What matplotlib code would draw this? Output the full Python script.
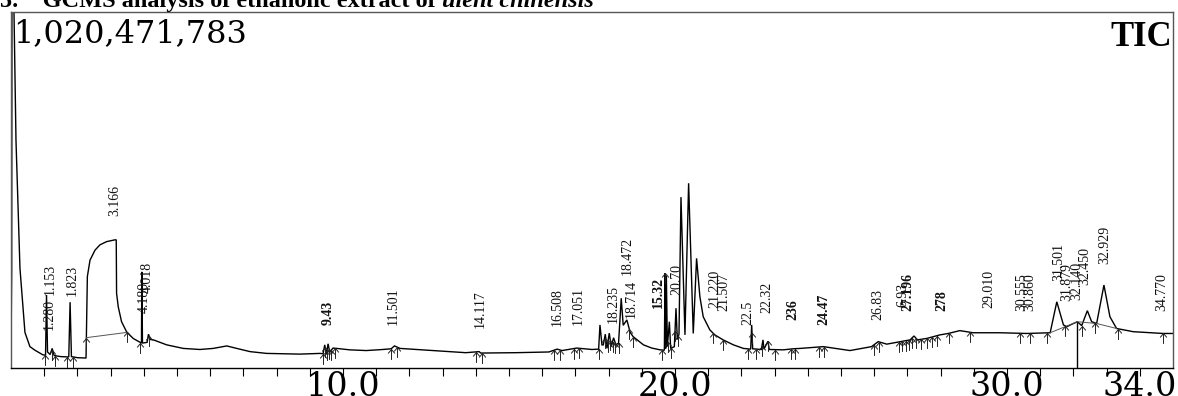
import numpy as np
import matplotlib
matplotlib.use("Agg")
import matplotlib.pyplot as plt
from matplotlib.path import Path

# ---------------- data ----------------
# retention time (min) and relative intensity (% of full scale 1,020,471,783)
rt = [0.00, 0.02, 0.05, 0.09, 0.15, 0.27, 0.42, 0.57, 0.72, 0.96,
      1.04, 1.07, 1.10, 1.18, 1.24, 1.30, 1.50, 1.74, 1.78, 1.82,
      2.00, 2.26, 2.30, 2.38, 2.53, 2.68, 2.88, 3.13, 3.17, 3.18,
      3.23, 3.33, 3.48, 3.68, 3.89, 3.93, 3.94, 3.96, 4.10, 4.14,
      4.20, 4.29, 4.69, 5.19, 5.69, 6.09, 6.50, 6.80, 7.20, 7.70,
      8.70, 9.31, 9.40, 9.45, 9.50, 9.55, 9.60, 9.70, 9.81, 10.20,
      10.70, 11.20, 11.45, 11.55, 11.72, 12.70, 13.70, 14.10, 14.15, 15.20,
      16.20, 16.45, 16.60, 17.04, 17.50, 17.70, 17.74, 17.80, 17.84, 17.90,
      17.95, 18.02, 18.08, 18.15, 18.22, 18.30, 18.38, 18.44, 18.55, 18.65,
      18.74, 19.05, 19.30, 19.55, 19.68, 19.70, 19.72, 19.74, 19.77, 19.83,
      19.87, 19.98, 20.03, 20.07, 20.12, 20.18, 20.30, 20.41, 20.55, 20.65,
      20.75, 20.85, 21.05, 21.20, 21.45, 21.76, 22.06, 22.28, 22.31, 22.34,
      22.60, 22.65, 22.68, 22.80, 22.84, 23.26, 23.56, 23.77, 24.47, 25.27,
      25.92, 26.12, 26.38, 26.78, 27.08, 27.20, 27.30, 27.58, 27.98, 28.23,
      28.58, 28.98, 29.79, 30.59, 31.30, 31.50, 31.70, 31.80, 32.00, 32.12,
      32.25, 32.42, 32.55, 32.70, 32.92, 33.10, 33.30, 33.80, 34.70, 35.00]
intensity = [4.0, 27.0, 300.0, 100.0, 64.0, 28.0, 10.0, 6.0, 5.0, 3.7,
             3.6, 20.5, 4.5, 3.8, 5.5, 3.5, 3.2, 3.1, 18.5, 3.2,
             2.9, 2.8, 25.7, 30.3, 33.1, 34.6, 35.5, 36.0, 36.0, 21.0,
             17.2, 13.0, 10.2, 8.3, 7.2, 7.0, 27.0, 7.0, 7.2, 9.5,
             8.0, 7.9, 6.5, 5.5, 5.2, 5.5, 6.2, 5.5, 4.6, 4.1,
             3.9, 4.1, 4.0, 6.5, 3.8, 6.8, 4.5, 5.6, 5.5, 5.1,
             4.9, 5.2, 5.4, 6.2, 5.5, 4.9, 4.3, 4.6, 4.2, 4.3,
             4.5, 5.3, 4.9, 5.6, 5.2, 5.3, 12.1, 6.5, 6.5, 9.5,
             5.5, 9.8, 6.0, 8.5, 6.5, 7.0, 19.6, 12.0, 13.5, 10.0,
             8.8, 6.5, 5.6, 5.1, 5.0, 26.6, 5.5, 26.0, 6.0, 13.0,
             5.5, 6.0, 16.8, 8.0, 9.5, 48.0, 9.3, 51.9, 9.7, 30.8,
             20.0, 14.4, 10.7, 9.3, 7.9, 6.5, 5.5, 5.3, 12.1, 5.4,
             5.2, 7.9, 5.3, 7.5, 5.2, 5.1, 5.4, 5.5, 6.0, 4.9,
             6.0, 7.4, 6.7, 7.4, 7.9, 9.0, 7.9, 8.3, 9.3, 9.7,
             10.5, 9.9, 9.9, 9.7, 9.9, 18.6, 12.1, 11.6, 12.5, 13.0,
             11.9, 16.1, 13.0, 12.5, 23.3, 14.4, 11.1, 10.2, 9.7, 9.7]

# peak labels: text, retention time, anchor level (% full scale)
label_text = ["1.280", "1.153", "1.823", "3.166", "4.180", "4.018", "9.43",
              "11.501", "14.117", "16.508", "17.051", "18.235", "18.472",
              "18.714", "15.32", "20.70", "21.220", "21.507", "22.5", "22.32",
              "236", "24.47", "26.83", "6.93", "27.196", "278", "29.010",
              "30.555", "30.860", "31.501", "31.879", "32.140", "32.450",
              "32.929", "34.770"]
label_rt = [1.15, 1.17, 1.83, 3.13, 4.00, 4.09, 9.56,
            11.52, 14.13, 16.44, 17.09, 18.14, 18.55,
            18.67, 19.50, 20.05, 21.20, 21.46, 22.21, 22.76,
            23.55, 24.47, 26.12, 26.85, 27.02, 28.05, 29.44,
            30.44, 30.69, 31.55, 31.80, 32.10, 32.35,
            32.95, 34.66]
label_anchor = [10.2, 20.0, 19.6, 42.0, 14.9, 20.5, 11.6,
                11.6, 10.7, 11.1, 11.6, 12.1, 25.6,
                13.5, 16.3, 20.0, 16.3, 15.4, 11.6, 14.9,
                13.0, 11.6, 13.0, 16.5, 15.4, 15.4, 16.3,
                15.4, 15.4, 23.8, 18.2, 18.6, 22.8,
                28.5, 15.4]
bold_labels = ["9.43", "15.32", "236", "24.47", "278", "27.196"]

# integration boundary marks (retention times)
boundary_rt = [1.02, 1.22, 1.32, 1.70, 1.86, 2.27, 3.50, 3.90, 4.16, 9.40,
               9.46, 9.52, 9.58, 9.65, 9.75, 11.45, 11.62, 14.00, 14.20, 16.35,
               16.55, 16.95, 17.10, 17.70, 17.88, 17.98, 18.05, 18.12, 18.20,
               18.30, 18.62, 18.75, 19.62, 19.70, 19.78, 19.88, 20.00, 20.10,
               21.15, 21.45, 22.20, 22.32, 22.45, 22.62, 22.80, 23.00, 23.50,
               23.60, 24.35, 24.50, 26.00, 26.15, 26.75, 26.85, 26.95, 27.05,
               27.15, 27.25, 27.40, 27.60, 27.75, 27.90, 28.25, 28.90, 30.40,
               30.70, 31.20, 31.75, 32.25, 32.65, 33.35, 34.70]

# integration baselines (start, end retention times)
baseline_start = [2.27, 31.30, 32.12, 32.70]
baseline_end = [3.50, 32.12, 32.70, 33.30]
drop_line_rt = [32.12]

x_ticks = list(range(1, 35))
x_labeled = {10: "10.0", 20: "20.0", 30: "30.0", 34: "34.0"}

full_scale = "1,020,471,783"
trace_name = "TIC"
title_main = "5.    GCMS analysis of ethanolic extract of "
title_species = "ulent chinensis"

# ---------------- figure ----------------
W, H = 1178, 396
fig = plt.figure(figsize=(W / 100, H / 100), dpi=100)
ax = fig.add_axes([11 / W, 1 - 368 / H, 1162 / W, 356 / H])

rt_a = np.array(rt)
int_a = np.array(intensity)
ax.plot(rt_a, int_a, color="black", lw=1.0, solid_joinstyle="miter")

# integration baselines
for t0, t1 in zip(baseline_start, baseline_end):
    ax.plot([t0, t1], np.interp([t0, t1], rt_a, int_a), color="#555555", lw=0.7)
for t in drop_line_rt:
    ax.vlines(t, 0, np.interp(t, rt_a, int_a), color="black", lw=1.0)

# arrow markers at integration boundaries
arrow = Path([(0, 0), (0, -1), (-0.32, -0.38), (0, 0), (0.32, -0.38)],
             [Path.MOVETO, Path.LINETO, Path.MOVETO, Path.LINETO, Path.LINETO])
b = np.array(boundary_rt)
ax.plot(b, np.interp(b, rt_a, int_a), ls="none", marker=arrow, ms=15,
        mec="#222222", mew=0.7, mfc="none")

# peak labels
for txt, t, yv in zip(label_text, label_rt, label_anchor):
    ax.text(t, yv + 0.6, txt, rotation=90, ha="center", va="bottom",
            family="Liberation Serif", fontsize=10,
            fontweight="bold" if txt in bold_labels else "normal",
            color="#111111")

ax.set_xlim(0, 35)
ax.set_ylim(0, 100)
ax.set_yticks([])
ax.set_xticks(x_ticks, [x_labeled.get(t, "") for t in x_ticks])
ax.tick_params(axis="x", direction="out", length=6, width=0.8, pad=-4,
               labelsize=24, colors="black")
for lab in ax.get_xticklabels():
    lab.set_family("DejaVu Serif")
for side in ["left", "top", "right"]:
    ax.spines[side].set_color("#555555")
    ax.spines[side].set_linewidth(1.0)
ax.spines["bottom"].set_color("black")
ax.spines["bottom"].set_linewidth(1.0)

fig.text(13 / W, 1 - 42 / H, full_scale, family="DejaVu Serif", fontsize=23,
         ha="left", va="baseline")
fig.text(1172 / W, 1 - 46 / H, trace_name, family="Liberation Serif",
         fontsize=25, fontweight="bold", ha="right", va="baseline")

t1 = fig.text(0, 1 - 7 / H, title_main, family="Liberation Serif", fontsize=17.5,
              fontweight="bold", ha="left", va="baseline")
fig.canvas.draw()
bb = t1.get_window_extent()
fig.text(bb.x1 / W, 1 - 7 / H, title_species, family="Liberation Serif",
         fontsize=17.5, fontweight="bold", style="italic", ha="left", va="baseline")

fig.savefig("out.png", dpi=100)
